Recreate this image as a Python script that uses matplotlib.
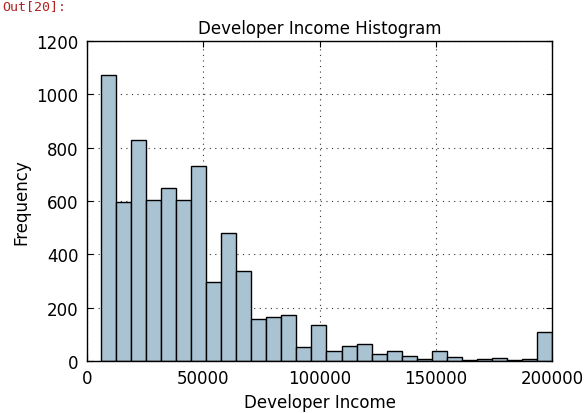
import numpy as np
import matplotlib
matplotlib.use("Agg")
import matplotlib.pyplot as plt

# Counts per bin
counts = [1071, 598, 830, 605, 650, 605, 733, 297, 479, 336,
          156, 165, 174, 51, 134, 36, 58, 65, 28, 36,
          20, 6, 36, 16, 3, 9, 13, 3, 9, 108]
income_min = 6000
income_max = 200000
edges = np.linspace(income_min, income_max, len(counts) + 1)

plt.rcParams['font.family'] = 'DejaVu Sans'
plt.rcParams['font.size'] = 12

fig = plt.figure(figsize=(5.86, 4.14), dpi=100, facecolor='white')
ax = fig.add_axes([87 / 586, 1 - 362 / 414, 465 / 586, 320 / 414])

ax.hist(edges[:-1], bins=edges, weights=counts, color='#a9c3d2',
        edgecolor='black', linewidth=1.0)

ax.set_xlim(0, 200000)
ax.set_ylim(0, 1200)
ax.set_xticks([0, 50000, 100000, 150000, 200000])
ax.set_yticks(range(0, 1201, 200))
ax.tick_params(direction='in', top=True, right=True, length=4, labelsize=12, pad=6)
ax.grid(True, color='#333333', linestyle=(0, (1, 4)), linewidth=0.8)
ax.set_axisbelow(True)
for s in ax.spines.values():
    s.set_linewidth(1.0)

ax.set_title("Developer Income Histogram", fontsize=12)
ax.set_xlabel("Developer Income", fontsize=12)
ax.set_ylabel("Frequency", fontsize=12)

fig.text(2 / 586, 1 - 7 / 414, "Out[20]:", color='#b22222', fontsize=9.5,
         family='DejaVu Sans Mono', va='center', ha='left')

fig.savefig("out.png", dpi=100, facecolor='white')
